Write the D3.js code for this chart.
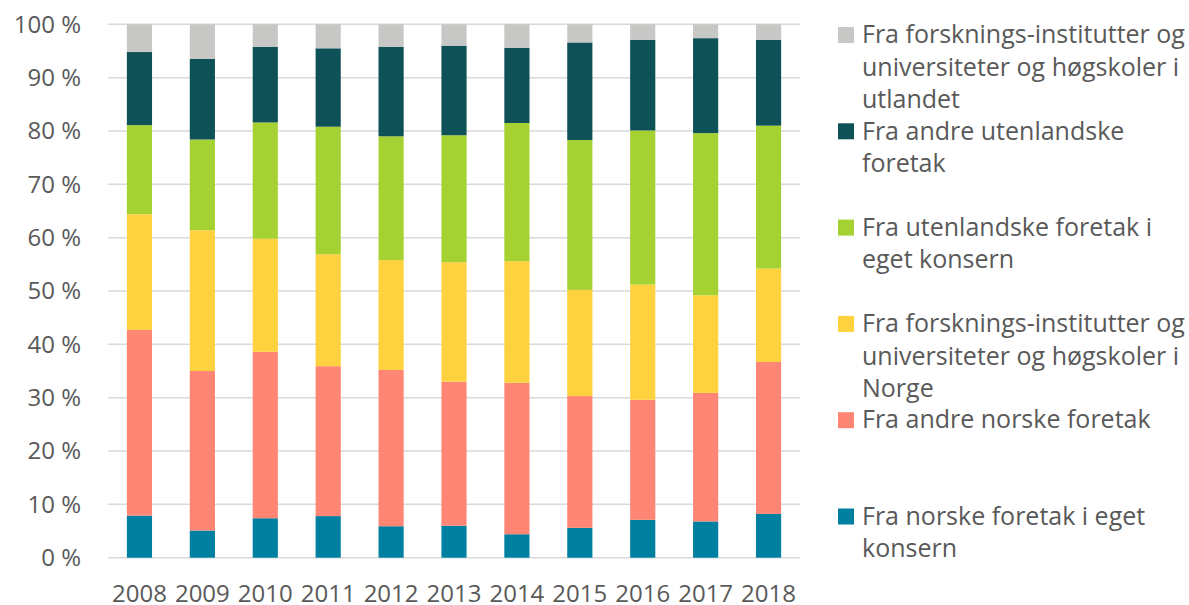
<!DOCTYPE html>
<html><head><meta charset="utf-8">
<script src="https://cdn.jsdelivr.net/npm/d3@7"></script>
<style>
html,body{margin:0;padding:0;background:#fff;}
svg text{font-family:"Open Sans","Lato",sans-serif;fill:#595959;}
</style></head>
<body><svg id="chart" width="1189" height="605"></svg>
<script>
const years = ["2008","2009","2010","2011","2012","2013","2014","2015","2016","2017","2018"];
const norskeEgetKonsern   = [7.9, 5.1, 7.4, 7.8, 5.9, 6.0, 4.4, 5.6, 7.1, 6.8, 8.2];
const andreNorske         = [34.8, 29.9, 31.2, 28.1, 29.3, 27.0, 28.4, 24.7, 22.5, 24.1, 28.5];
const forskNorge          = [21.7, 26.4, 21.2, 21.0, 20.6, 22.4, 22.8, 19.9, 21.6, 18.3, 17.5];
const utenlandskEgetKons  = [16.7, 17.0, 21.8, 23.9, 23.2, 23.8, 25.9, 28.1, 28.9, 30.4, 26.8];
const andreUtenlandske    = [13.7, 15.1, 14.2, 14.7, 16.8, 16.8, 14.1, 18.3, 17.0, 17.8, 16.1];
const forskUtlandet       = [5.2, 6.5, 4.2, 4.5, 4.2, 4.0, 4.4, 3.4, 2.9, 2.6, 2.9];
const yTicks = [0,10,20,30,40,50,60,70,80,90,100];

const seriesNames = [
  "Fra norske foretak i eget konsern",
  "Fra andre norske foretak",
  "Fra forsknings-institutter og universiteter og høgskoler i Norge",
  "Fra utenlandske foretak i eget konsern",
  "Fra andre utenlandske foretak",
  "Fra forsknings-institutter og universiteter og høgskoler i utlandet"
];
const legendLines = [
  ["Fra norske foretak i eget","konsern"],
  ["Fra andre norske foretak"],
  ["Fra forsknings-institutter og","universiteter og høgskoler i","Norge"],
  ["Fra utenlandske foretak i","eget konsern"],
  ["Fra andre utenlandske","foretak"],
  ["Fra forsknings-institutter og","universiteter og høgskoler i","utlandet"]
];
const colors = ["#0080a1","#ff8674","#fdd23e","#a5d232","#0e5157","#c7c8c5"];
const seriesValues = [norskeEgetKonsern, andreNorske, forskNorge, utenlandskEgetKons, andreUtenlandske, forskUtlandet];

const rows = years.map((y,i)=>{const r={year:y}; seriesNames.forEach((n,k)=>r[n]=seriesValues[k][i]); return r;});
const stack = d3.stack().keys(seriesNames).offset(d3.stackOffsetExpand);
const stacked = stack(rows);

const svg = d3.select("#chart");
const x = d3.scaleBand().domain(years).range([108,800]).paddingInner(0.6).paddingOuter(0.3);
const y = d3.scaleLinear().domain([0,1]).range([557.7,24.3]);

// gridlines
svg.append("g").selectAll("line").data(yTicks).join("line")
  .attr("x1",108).attr("x2",800)
  .attr("y1",d=>y(d/100)).attr("y2",d=>y(d/100))
  .attr("stroke","#d9d9d9").attr("stroke-width",1.5);

// y labels
svg.append("g").selectAll("text").data(yTicks).join("text")
  .attr("x",81).attr("y",d=>y(d/100)).attr("dy","0.35em")
  .attr("text-anchor","end").style("font-size","24px")
  .text(d=>d+" %");

// bars
svg.append("g").selectAll("g").data(stacked).join("g")
  .attr("fill",(d,i)=>colors[i])
  .selectAll("rect").data(d=>d).join("rect")
  .attr("x",d=>x(d.data.year)).attr("width",x.bandwidth())
  .attr("y",d=>y(d[1])).attr("height",d=>y(d[0])-y(d[1]));

// x labels
svg.append("g").selectAll("text").data(years).join("text")
  .attr("x",d=>x(d)+x.bandwidth()/2).attr("y",602)
  .attr("text-anchor","middle").style("font-size","24px")
  .text(d=>d);

// legend (top to bottom: reversed order)
const legOrder = [5,4,3,2,1,0];
const leg = svg.append("g");
legOrder.forEach((k,j)=>{
  const cy = 34.5 + j*96.3;
  leg.append("rect").attr("x",838).attr("y",cy-7.5).attr("width",16).attr("height",16).attr("fill",colors[k]);
  const t = leg.append("text").attr("x",862).attr("y",cy).style("font-size","25px");
  legendLines[k].forEach((ln,li)=>{
    t.append("tspan").attr("x",862).attr("dy", li===0?"0.35em":"32.5px").text(ln);
  });
});
</script></body></html>
